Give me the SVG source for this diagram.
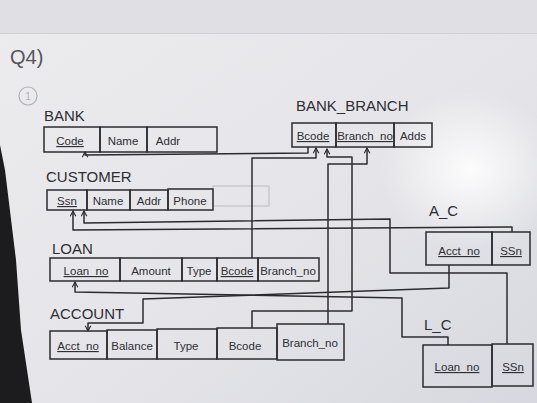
<svg xmlns="http://www.w3.org/2000/svg" width="537" height="403" viewBox="0 0 537 403">
  <defs>
    <linearGradient id="paper" x1="0" y1="0" x2="1" y2="1">
      <stop offset="0" stop-color="#ececef"/>
      <stop offset="0.55" stop-color="#e5e5e9"/>
      <stop offset="1" stop-color="#d7d8df"/>
    </linearGradient>
    <radialGradient id="glow" cx="0.5" cy="0.5" r="0.5">
      <stop offset="0" stop-color="#ffffff" stop-opacity="0.9"/>
      <stop offset="1" stop-color="#ffffff" stop-opacity="0"/>
    </radialGradient>
    <marker id="tip" viewBox="0 0 8 8" refX="7" refY="4" markerWidth="7" markerHeight="7" orient="auto" markerUnits="userSpaceOnUse">
      <path d="M1,0.8 L7,4 L1,7.2" fill="none" stroke="#2b2b30" stroke-width="1.3"/>
    </marker>
    <style>
      .cell { fill: none; stroke: #2b2b30; stroke-width: 1.5; }
      .ghost { fill: none; stroke: #b9b9bf; stroke-width: 1; }
      .wire { fill: none; stroke: #2b2b30; stroke-width: 1.5; stroke-linejoin: round; }
      .arrow { marker-end: url(#tip); }
      .title { font-family: "Liberation Sans", "DejaVu Sans", sans-serif; font-size: 15px; fill: #2e2e33; }
      .attr { font-family: "Liberation Sans", "DejaVu Sans", sans-serif; font-size: 11.5px; fill: #2e2e33; text-anchor: middle; }
      .key { text-decoration: underline; }
      .note { font-family: "Liberation Sans", "DejaVu Sans", sans-serif; font-size: 20px; fill: #55555b; }
    </style>
  </defs>

  <!-- sheet of paper -->
  <rect width="537" height="403" fill="url(#paper)"/>
  <rect x="0" y="0" width="537" height="33" fill="#e0e0e4"/>
  <line x1="0" y1="33.5" x2="537" y2="33.5" stroke="#d0d0d5" stroke-width="1"/>
  <ellipse cx="470" cy="170" rx="90" ry="80" fill="url(#glow)"/>
  <path d="M0,145 L5,170 L16,260 L21,330 L32,403 L0,403 Z" fill="#1c1c1f"/>

  <!-- question heading -->
  <text class="note" x="10" y="64">Q4)</text>
  <g id="step-mark">
    <circle cx="28" cy="96" r="9" fill="none" stroke="#b0b0b6" stroke-width="1.2"/>
    <text x="28" y="100" font-family="Liberation Sans, sans-serif" font-size="10" fill="#b0b0b6" text-anchor="middle">1</text>
  </g>

  <!-- relations -->
  <g id="bank">
    <text class="title" x="44" y="121">BANK</text>
    <rect class="cell" x="44" y="127" width="56" height="25"/>
    <rect class="cell" x="100" y="127" width="47" height="25"/>
    <rect class="cell" x="147" y="127" width="70" height="25"/>
    <text class="attr key" x="70" y="145">Code</text>
    <text class="attr" x="123" y="145">Name</text>
    <text class="attr" x="168" y="145">Addr</text>
  </g>

  <g id="bank_branch">
    <text class="title" x="296" y="111" font-size="13">BANK_BRANCH</text>
    <rect class="cell" x="292" y="123" width="44" height="24"/>
    <rect class="cell" x="336" y="123" width="58" height="24"/>
    <rect class="cell" x="394" y="123" width="38" height="24"/>
    <text class="attr key" x="313" y="140">Bcode</text>
    <text class="attr key" x="365" y="140" font-size="10.5">Branch_no</text>
    <text class="attr" x="413" y="140">Adds</text>
  </g>

  <g id="customer">
    <text class="title" x="46" y="182" font-size="14">CUSTOMER</text>
    <rect class="ghost" x="213" y="186" width="56" height="20"/>
    <rect class="cell" x="47" y="190" width="40" height="20"/>
    <rect class="cell" x="87" y="190" width="43" height="20"/>
    <rect class="cell" x="130" y="190" width="38" height="20"/>
    <rect class="cell" x="168" y="189" width="45" height="21"/>
    <text class="attr key" x="67" y="205">Ssn</text>
    <text class="attr" x="108" y="205" font-size="10.5">Name</text>
    <text class="attr" x="149" y="205" font-size="10.5">Addr</text>
    <text class="attr" x="190" y="205">Phone</text>
  </g>

  <g id="loan">
    <text class="title" x="52" y="254" font-size="14">LOAN</text>
    <rect class="cell" x="50" y="258" width="70" height="23"/>
    <rect class="cell" x="120" y="258" width="62" height="23"/>
    <rect class="cell" x="182" y="258" width="35" height="23"/>
    <rect class="cell" x="217" y="258" width="41" height="23"/>
    <rect class="cell" x="258" y="258" width="61" height="23"/>
    <text class="attr key" x="86" y="275">Loan_no</text>
    <text class="attr" x="151" y="275">Amount</text>
    <text class="attr" x="199" y="275">Type</text>
    <text class="attr key" x="237" y="275">Bcode</text>
    <text class="attr" x="288" y="275" font-size="10.5">Branch_no</text>
  </g>

  <g id="account">
    <text class="title" x="50" y="319" font-size="16">ACCOUNT</text>
    <rect class="cell" x="50" y="331" width="57" height="28"/>
    <rect class="cell" x="107" y="330" width="50" height="29"/>
    <rect class="cell" x="157" y="329" width="60" height="30"/>
    <rect class="cell" x="217" y="328" width="60" height="31"/>
    <rect class="cell" x="277" y="324" width="67" height="36"/>
    <text class="attr key" x="78" y="350">Acct_no</text>
    <text class="attr" x="132" y="350">Balance</text>
    <text class="attr" x="186" y="350">Type</text>
    <text class="attr" x="245" y="350">Bcode</text>
    <text class="attr" x="310" y="347" font-size="12.5">Branch_no</text>
  </g>

  <g id="a_c">
    <text class="title" x="429" y="216" font-size="18">A_C</text>
    <rect class="cell" x="426" y="232" width="66" height="33"/>
    <rect class="cell" x="492" y="232" width="38" height="33"/>
    <text class="attr key" x="459" y="255" font-size="13">Acct_no</text>
    <text class="attr key" x="511" y="255" font-size="13">SSn</text>
  </g>

  <g id="l_c">
    <text class="title" x="424" y="330" font-size="18">L_C</text>
    <rect class="cell" x="423" y="345" width="69" height="42"/>
    <rect class="cell" x="492" y="344" width="41" height="42"/>
    <text class="attr key" x="457" y="371" font-size="13">Loan_no</text>
    <text class="attr key" x="513" y="371" font-size="13">SSn</text>
  </g>

  <!-- foreign key references -->
  <g id="connectors">
    <!-- BANK_BRANCH.Bcode -> BANK.Code -->
    <path class="wire arrow" d="M308,147 V153 L85,155 V152"/>
    <!-- LOAN.Bcode -> BANK_BRANCH.Bcode -->
    <path class="wire arrow" d="M252,258 V158 H316 V148"/>
    <!-- ACCOUNT.Bcode -> BANK_BRANCH.Bcode -->
    <path class="wire arrow" d="M252,328 V311 H352 V157 H327 V149"/>
    <!-- ACCOUNT.Branch_no -> BANK_BRANCH.Branch_no -->
    <path class="wire arrow" d="M328,324 V164 H367 V148"/>
    <!-- A_C.SSn -> CUSTOMER.Ssn -->
    <path class="wire arrow" d="M512,232 V227 L73,230 V211"/>
    <!-- L_C.SSn -> CUSTOMER.Ssn -->
    <path class="wire arrow" d="M507,344 V273 H390 V219 L84,223 V211"/>
    <!-- A_C.Acct_no -> ACCOUNT.Acct_no -->
    <path class="wire arrow" d="M449,265 V288 L143,299 V323 H88 V331"/>
    <!-- L_C.Loan_no -> LOAN.Loan_no -->
    <path class="wire arrow" d="M448,345 V337 H402 V298 L75,292 V282"/>
  </g>
</svg>
